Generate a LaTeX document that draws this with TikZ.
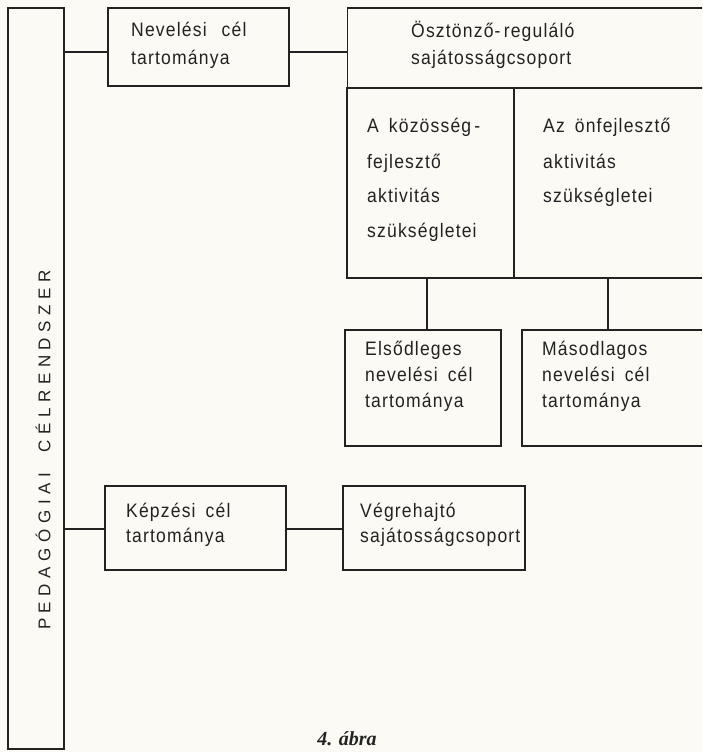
\documentclass[tikz,border=0pt]{standalone}
\usepackage{fontspec}
\setmainfont{Liberation Serif}
\newfontfamily\lettering[LetterSpace=6,FakeStretch=0.9]{Liberation Sans}
\newfontfamily\vlettering[LetterSpace=33]{Liberation Sans}
\definecolor{paper}{HTML}{FBFAF5}
\definecolor{ink}{HTML}{222222}
\newcommand\wsp{\hspace{10pt}}
\begin{document}
\begin{tikzpicture}[x=1pt,y=-1pt,
  box/.style={draw=ink,line width=1.7pt,inner sep=0pt},
  conn/.style={draw=ink,line width=1.7pt},
  txt/.style={anchor=base west,inner sep=0pt,text=ink,font=\lettering\fontsize{19.5}{19.5}\selectfont},
]
\fill[paper] (0,0) rectangle (702,752);
\useasboundingbox (0,0) rectangle (702,752);
\clip (0,0) rectangle (702,752);
% left bar
\node[box,minimum width=56pt,minimum height=741pt] (bar) at (36,378.5) {};
\node[rotate=90,anchor=center,text=ink,font=\vlettering\fontsize{17}{17}\selectfont] (vt) at (43,450) {PEDAGÓGIAI\hspace{20pt}CÉLRENDSZER};
% boxes
\node[box,minimum width=181pt,minimum height=78pt] (nev) at (198.5,47) {};
\node[box,minimum width=365pt,minimum height=80pt] (osz) at (530,48) {};
\node[box,minimum width=167pt,minimum height=190pt] (koz) at (430.5,183) {};
\node[box,minimum width=196pt,minimum height=190pt] (onf) at (612,183) {};
\node[box,minimum width=156pt,minimum height=116pt] (els) at (423,388) {};
\node[box,minimum width=188pt,minimum height=116pt] (mas) at (616,388) {};
\node[box,minimum width=181pt,minimum height=84pt] (kep) at (195.5,528) {};
\node[box,minimum width=182pt,minimum height=84pt] (veg) at (434,528) {};
% connectors
\draw[conn] (bar.east |- 0,52) -- (nev.west |- 0,52);
\draw[conn] (nev.east |- 0,52) -- (osz.west |- 0,52);
\draw[conn] (koz.south -| 427,0) -- (els.north -| 427,0);
\draw[conn] (onf.south -| 608,0) -- (mas.north -| 608,0);
\draw[conn] (bar.east |- 0,529) -- (kep.west |- 0,529);
\draw[conn] (kep.east |- 0,529) -- (veg.west |- 0,529);
% texts
\node[txt] at (131,37) {Nevelési\hspace{15pt}cél};
\node[txt] at (131,64) {tartománya};
\node[txt] at (411,38) {Ösztönző-\,reguláló};
\node[txt] at (411,65) {sajátosságcsoport};
\node[txt] at (367,132) {A\wsp közösség\,-};
\node[txt] at (367,168) {fejlesztő};
\node[txt] at (367,202) {aktivitás};
\node[txt] at (367,237) {szükségletei};
\node[txt] at (543,132) {Az\wsp önfejlesztő};
\node[txt] at (543,168) {aktivitás};
\node[txt] at (543,202) {szükségletei};
\node[txt] at (365,355) {Elsődleges};
\node[txt] at (365,381) {nevelési\wsp cél};
\node[txt] at (365,407) {tartománya};
\node[txt] at (542,355) {Másodlagos};
\node[txt] at (542,381) {nevelési\wsp cél};
\node[txt] at (542,407) {tartománya};
\node[txt] at (126,517) {Képzési\wsp cél};
\node[txt] at (126,542) {tartománya};
\node[txt] at (360,517) {Végrehajtó};
\node[txt] at (360,542) {sajátosságcsoport};
\node[anchor=base,inner sep=0pt,text=ink,font=\bfseries\itshape\fontsize{20}{20}\selectfont] (cap) at (347,745) {4. ábra};
\end{tikzpicture}
\end{document}
